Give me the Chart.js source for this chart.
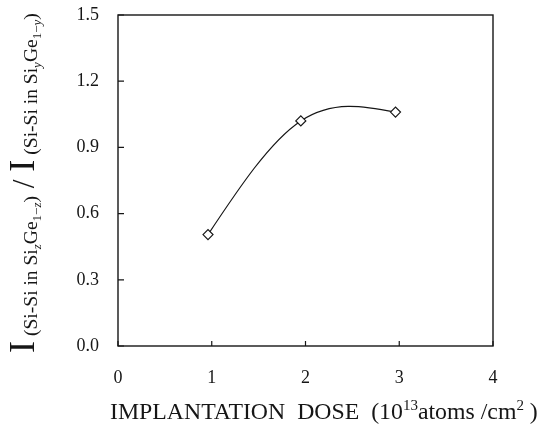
<!DOCTYPE html>
<html>
<head>
<meta charset="utf-8">
<script src="https://cdn.jsdelivr.net/npm/chart.js@4"></script>
<style>
  html, body { margin: 0; padding: 0; background: #fff; }
  #wrap { width: 541px; height: 425px; }
</style>
</head>
<body>
<div id="wrap"><canvas id="c" width="541" height="425"></canvas></div>
<script>
// ---- data ----
const doseValues = [0.96, 1.95, 2.96];          // 10^13 atoms/cm^2
const intensityRatio = [0.505, 1.02, 1.06];
const xTickValues = [0, 1, 2, 3, 4];
const yTickValues = [0.0, 0.3, 0.6, 0.9, 1.2, 1.5];

const FONT = "'Liberation Serif', 'DejaVu Serif', serif";
const INK = '#161616';

// y-title segments: [text, fontSize, baselineShift, italic]
const yTitleSegs = [
  ['I', 28, 0], [' (Si-Si in Si', 15, 3], ['z', 10, 7, true], ['Ge', 15, 3], ['1\u2212', 10, 7], ['z', 10, 7, true], [')', 15, 3],
  [' / ', 24, 0],
  ['I', 28, 0], [' (Si-Si in Si', 15, 3], ['y', 10, 7, true], ['Ge', 15, 3], ['1\u2212', 10, 7], ['y', 10, 7, true], [')', 15, 3]
];
const xTitleSegs = [
  ['IMPLANTATION  DOSE  (10', 19, 0], ['13', 12, -9], ['atoms /cm', 19, 0], ['2', 12, -9], [' )', 19, 0]
];

function segFont(s, k) {
  return (s[3] ? 'italic ' : '') + (s[1] * k).toFixed(2) + 'px ' + FONT;
}
function drawSegs(ctx, segs, targetWidth) {
  let w = 0;
  segs.forEach(s => { ctx.font = segFont(s, 1); w += ctx.measureText(s[0]).width; });
  const k = targetWidth / w;
  let x = 0;
  segs.forEach(s => {
    ctx.font = segFont(s, k);
    ctx.fillText(s[0], x, s[2]);
    x += ctx.measureText(s[0]).width;
  });
}

// smooth (natural cubic spline) control points for the library's line element
const splinePlugin = {
  id: 'naturalSpline',
  beforeDatasetDraw(chart, args) {
    const meta = args.meta;
    const line = meta.dataset;
    line.updateControlPoints(chart.chartArea, 'x');
    const pts = meta.data;
    const n = pts.length;
    if (n < 3) return;
    const h = [], d = [];
    for (let i = 0; i < n - 1; i++) {
      h.push(pts[i + 1].x - pts[i].x);
      d.push((pts[i + 1].y - pts[i].y) / h[i]);
    }
    // second derivatives (natural ends) via tridiagonal solve
    const M = new Array(n).fill(0);
    const a = [], b = [], c = [], r = [];
    for (let i = 1; i < n - 1; i++) {
      a.push(h[i - 1]); b.push(2 * (h[i - 1] + h[i])); c.push(h[i]); r.push(6 * (d[i] - d[i - 1]));
    }
    const m = b.length;
    for (let i = 1; i < m; i++) {
      const w = a[i] / b[i - 1];
      b[i] -= w * c[i - 1]; r[i] -= w * r[i - 1];
    }
    const sol = new Array(m);
    for (let i = m - 1; i >= 0; i--) sol[i] = (r[i] - (i < m - 1 ? c[i] * sol[i + 1] : 0)) / b[i];
    for (let i = 0; i < m; i++) M[i + 1] = sol[i];
    for (let i = 0; i < n - 1; i++) {
      const s0 = d[i] - h[i] * (2 * M[i] + M[i + 1]) / 6;
      const s1 = d[i] + h[i] * (M[i] + 2 * M[i + 1]) / 6;
      pts[i].cp2x = pts[i].x + h[i] / 3;
      pts[i].cp2y = pts[i].y + s0 * h[i] / 3;
      pts[i + 1].cp1x = pts[i + 1].x - h[i] / 3;
      pts[i + 1].cp1y = pts[i + 1].y - s1 * h[i] / 3;
    }
    pts[0].cp1x = pts[0].x; pts[0].cp1y = pts[0].y;
    pts[n - 1].cp2x = pts[n - 1].x; pts[n - 1].cp2y = pts[n - 1].y;
  }
};

const framePlugin = {
  id: 'frame',
  afterDraw(chart) {
    const ctx = chart.ctx;
    const a = chart.chartArea;
    const xs = chart.scales.x, ys = chart.scales.y;
    ctx.save();
    ctx.strokeStyle = INK;
    ctx.lineWidth = 1.4;
    ctx.strokeRect(a.left, a.top, a.right - a.left, a.bottom - a.top);
    ctx.lineWidth = 1.2;
    ctx.beginPath();
    xTickValues.forEach(v => {
      const px = xs.getPixelForValue(v);
      ctx.moveTo(px, a.bottom); ctx.lineTo(px, a.bottom - 5);
    });
    yTickValues.forEach(v => {
      const py = ys.getPixelForValue(v);
      ctx.moveTo(a.left, py); ctx.lineTo(a.left + 6, py);
    });
    ctx.stroke();

    ctx.fillStyle = INK;
    ctx.textBaseline = 'alphabetic';
    ctx.save();
    ctx.translate(110, 419);
    drawSegs(ctx, xTitleSegs, 428);
    ctx.restore();
    ctx.save();
    ctx.translate(34, 353);
    ctx.rotate(-Math.PI / 2);
    drawSegs(ctx, yTitleSegs, 340);
    ctx.restore();
    ctx.restore();
  }
};

new Chart(document.getElementById('c'), {
  type: 'scatter',
  data: {
    datasets: [{
      data: doseValues.map((x, i) => ({ x: x, y: intensityRatio[i] })),
      showLine: true,
      tension: 0.4,
      borderColor: INK,
      borderWidth: 1.2,
      pointStyle: 'rectRot',
      pointRadius: 5,
      pointBackgroundColor: '#fff',
      pointBorderColor: INK,
      pointBorderWidth: 1.2
    }]
  },
  options: {
    responsive: false,
    animation: false,
    layout: { padding: { top: 15, right: 48, left: 0, bottom: 0 } },
    plugins: { legend: { display: false }, tooltip: { enabled: false } },
    scales: {
      x: {
        type: 'linear', min: 0, max: 4,
        afterFit(s) { s.height = 79; s.paddingLeft = 0; s.paddingRight = 0; },
        afterBuildTicks(s) { s.ticks = xTickValues.map(v => ({ value: v })); },
        grid: { display: false, drawTicks: false },
        border: { display: false },
        ticks: { padding: 21, color: INK, font: { family: FONT, size: 18 }, callback: v => String(v) }
      },
      y: {
        type: 'linear', min: 0, max: 1.5,
        afterFit(s) { s.width = 118; s.paddingTop = 0; s.paddingBottom = 0; },
        afterBuildTicks(s) { s.ticks = yTickValues.map(v => ({ value: v })); },
        grid: { display: false, drawTicks: false },
        border: { display: false },
        ticks: { padding: 19, color: INK, font: { family: FONT, size: 18 }, callback: v => Number(v).toFixed(1) }
      }
    }
  },
  plugins: [splinePlugin, framePlugin]
});
</script>
</body>
</html>
